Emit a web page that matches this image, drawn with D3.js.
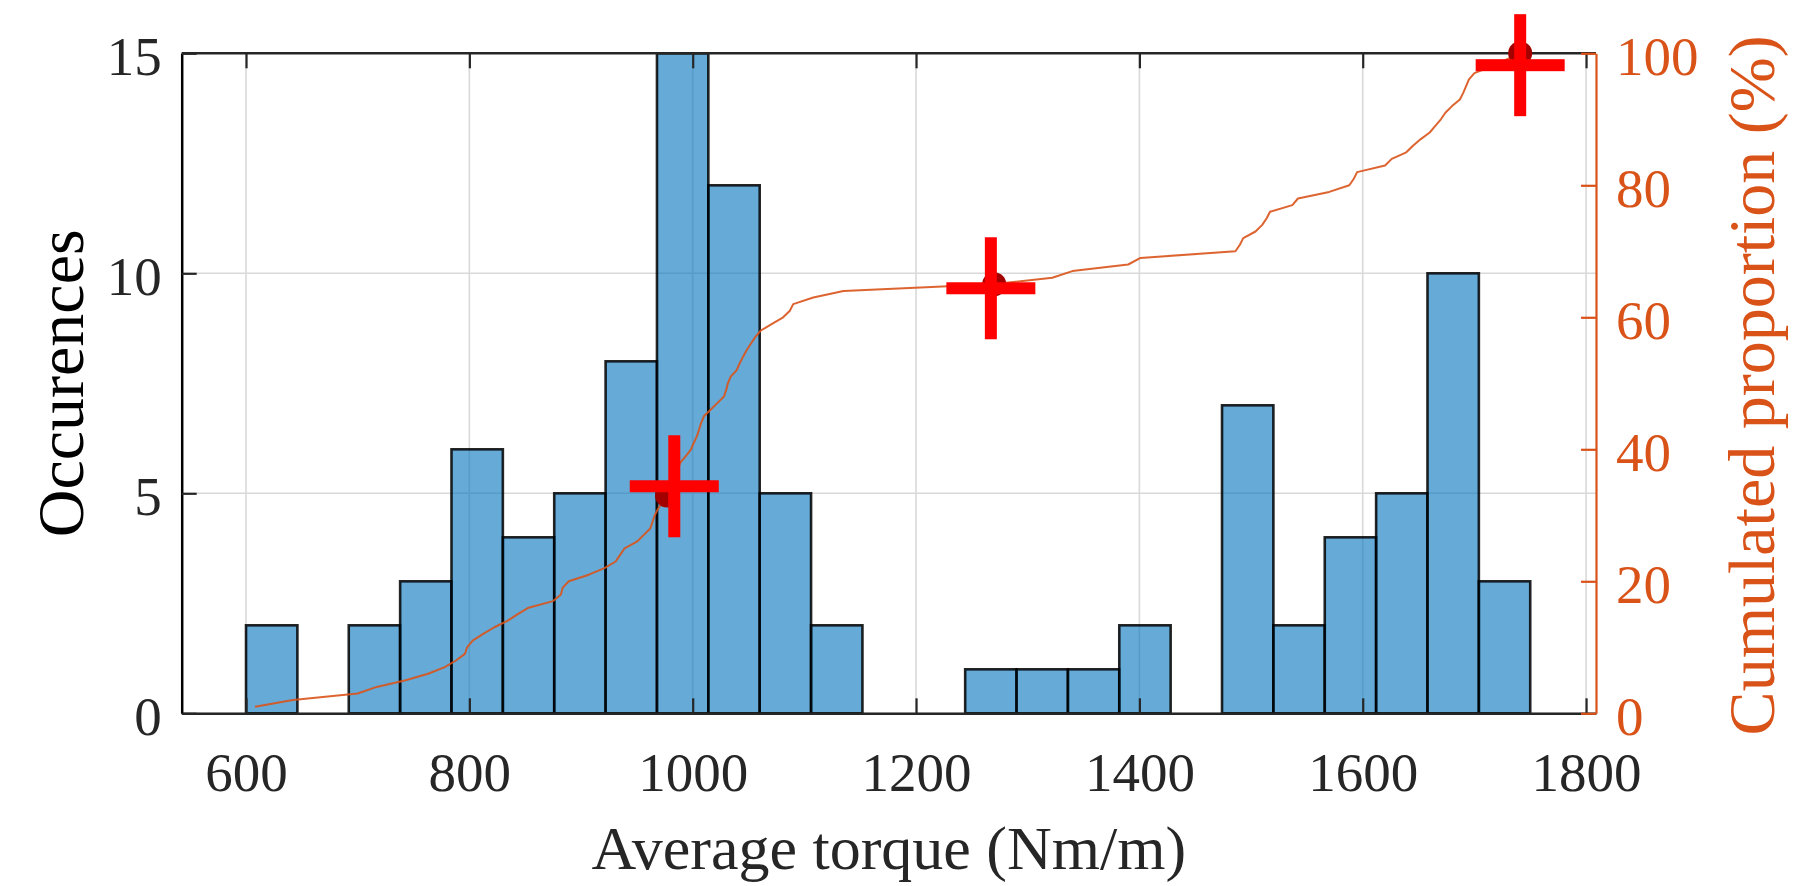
<!DOCTYPE html>
<html>
<head>
<meta charset="utf-8">
<script src="https://cdn.jsdelivr.net/npm/d3@7"></script>
<style>
  body { margin: 0; background: #fff; }
  svg { display: block; }
  text { font-family: "Liberation Serif", "Times New Roman", Times, serif; }
</style>
</head>
<body>
<svg id="chart" width="1806" height="886"></svg>
<script>
// Histogram bins of the average torque (Nm/m): first edge and width
const binStart = 600;
const binWidth = 46;
const binCounts = [2, 0, 2, 3, 6, 4, 5, 8, 15, 12, 5, 2, 0, 0, 1, 1, 1, 2, 0, 7, 2, 4, 5, 10, 3];

// Sorted torque samples (Nm/m) for the cumulated proportion curve
const torqueSorted = [
  608, 642, 700, 717, 743, 763, 778, 788, 796, 798,
  803, 812, 822, 834, 843, 853, 875, 882, 883.5, 889,
  907, 921, 931, 935, 939, 950, 956, 962, 964, 966,
  969, 973, 977, 979.5, 982, 984, 986.5, 989, 994, 998.5,
  1001, 1003.8, 1005.7, 1007.6, 1010, 1016, 1022, 1028, 1030, 1031.5,
  1034, 1039.4, 1042, 1045, 1048.3, 1052, 1056, 1061, 1071, 1081,
  1087, 1090, 1108, 1135, 1268, 1322, 1340, 1390, 1401, 1486,
  1490, 1493, 1504, 1510, 1514, 1517, 1537, 1542, 1570, 1588,
  1592, 1595, 1620, 1626, 1639, 1645, 1652, 1660, 1665, 1670,
  1674, 1680, 1687, 1690, 1692.5, 1695, 1700, 1715, 1728, 1741
];

// Highlighted samples (dot) and the cross markers placed over them
const markTorque = [977, 1270, 1741];
const markPercent = [33, 65, 100];
const crossTorque = [983.5, 1267, 1741];
const crossPercent = [34.4, 64.4, 98.2];

// Axis ticks
const xTicks = [600, 800, 1000, 1200, 1400, 1600, 1800];
const yLeftTicks = [0, 5, 10, 15];
const yRightTicks = [0, 20, 40, 60, 80, 100];

const xLabel = "Average torque (Nm/m)";
const yLeftLabel = "Occurences";
const yRightLabel = "Cumulated proportion (%)";

// ---- layout and style ----
const plot = { left: 181.7, right: 1596, top: 53.3, bottom: 713.3 };
const ink = "#262626";
const orange = "#D95319";
const gridColor = "#d9d9d9";
const tickFont = 55;
const labelFont = 62;
const yLabelFont = 66;
const tickLen = 15;
const intFmt = d3.format("d");

const svg = d3.select("#chart");

const x = d3.scaleLinear().domain([542.4, 1808.9]).range([plot.left, plot.right]);
const yL = d3.scaleLinear().domain([0, 15]).range([plot.bottom, plot.top]);
const yR = d3.scaleLinear().domain([0, 100]).range([plot.bottom, plot.top]);

// grid
const grid = svg.append("g").attr("stroke", gridColor).attr("stroke-width", 1.6);
grid.selectAll("line.v").data(xTicks).join("line")
  .attr("x1", d => x(d)).attr("x2", d => x(d))
  .attr("y1", plot.top).attr("y2", plot.bottom);
grid.selectAll("line.h").data(yLeftTicks).join("line")
  .attr("y1", d => yL(d)).attr("y2", d => yL(d))
  .attr("x1", plot.left).attr("x2", plot.right);

// histogram bars
const bins = binCounts.map((c, i) => ({ x0: binStart + i * binWidth, x1: binStart + (i + 1) * binWidth, count: c }));
svg.append("g").selectAll("rect").data(bins).join("rect")
  .attr("x", d => x(d.x0))
  .attr("width", d => x(d.x1) - x(d.x0))
  .attr("y", d => yL(d.count))
  .attr("height", d => yL(0) - yL(d.count))
  .attr("fill", "#0072BD").attr("fill-opacity", 0.6)
  .attr("stroke", "#000").attr("stroke-opacity", 0.85).attr("stroke-width", 2.6);

// cumulated proportion curve
const n = torqueSorted.length;
const cdf = torqueSorted.map((v, i) => ({ v, p: (i + 1) / n * 100 }));
svg.append("path").datum(cdf)
  .attr("fill", "none").attr("stroke", orange).attr("stroke-width", 2)
  .attr("stroke-opacity", 0.9)
  .attr("stroke-linejoin", "round")
  .attr("d", d3.line().x(d => x(d.v)).y(d => yR(d.p)));

// frame line along the top
svg.append("line").attr("x1", plot.left).attr("x2", plot.right).attr("y1", plot.top).attr("y2", plot.top)
  .attr("stroke", ink).attr("stroke-width", 2.5);

// bottom axis
const gx = svg.append("g").attr("transform", `translate(0,${plot.bottom})`)
  .call(d3.axisBottom(x).tickValues(xTicks).tickFormat(intFmt)
    .tickSizeInner(-tickLen).tickSizeOuter(0).tickPadding(0));
// top ticks
const gxTop = svg.append("g").attr("transform", `translate(0,${plot.top})`)
  .call(d3.axisTop(x).tickValues(xTicks).tickSizeInner(-tickLen).tickSizeOuter(0).tickFormat(""));
gxTop.select(".domain").remove();

// left axis
const gyL = svg.append("g").attr("transform", `translate(${plot.left},0)`)
  .call(d3.axisLeft(yL).tickValues(yLeftTicks).tickFormat(intFmt)
    .tickSizeInner(-tickLen).tickSizeOuter(0).tickPadding(20));

// right axis
const gyR = svg.append("g").attr("transform", `translate(${plot.right},0)`)
  .call(d3.axisRight(yR).tickValues(yRightTicks).tickFormat(intFmt)
    .tickSizeInner(-tickLen).tickSizeOuter(0).tickPadding(20));

[gx, gxTop, gyL].forEach(g => {
  g.select(".domain").attr("stroke", ink).attr("stroke-width", 2.5);
  g.selectAll(".tick line").attr("stroke", ink).attr("stroke-width", 2.2);
});
gyL.select(".domain").attr("stroke", "#000");
gyR.select(".domain").attr("stroke", orange).attr("stroke-width", 2.2);
gyR.selectAll(".tick line").attr("stroke", orange).attr("stroke-width", 2.2);

gx.selectAll(".tick text").attr("y", 77.7).attr("dy", 0)
  .attr("font-size", tickFont).attr("fill", ink);
gyL.selectAll(".tick text").attr("dy", "0.39em")
  .attr("font-size", tickFont).attr("fill", ink);
gyR.selectAll(".tick text").attr("dy", "0.39em")
  .attr("font-size", tickFont).attr("fill", orange);
[gx, gxTop, gyL, gyR].forEach(g => g.attr("font-family", null).attr("font-size", null));

// axis labels
svg.append("text").attr("x", (plot.left + plot.right) / 2).attr("y", 869)
  .attr("text-anchor", "middle").attr("font-size", labelFont).attr("fill", ink).text(xLabel);
svg.append("text").attr("transform", `translate(83,${(plot.top + plot.bottom) / 2}) rotate(-90)`)
  .attr("text-anchor", "middle").attr("font-size", yLabelFont).attr("fill", "#000").text(yLeftLabel);
svg.append("text").attr("transform", `translate(1774,${(plot.top + plot.bottom) / 2 + 2}) rotate(-90)`)
  .attr("text-anchor", "middle").attr("font-size", yLabelFont).attr("fill", orange).text(yRightLabel);

// highlighted samples and their cross markers
const marks = markTorque.map((v, i) => ({ v, p: markPercent[i], cv: crossTorque[i], cp: crossPercent[i] }));
svg.append("g").selectAll("circle").data(marks).join("circle")
  .attr("cx", d => x(d.v)).attr("cy", d => yR(d.p)).attr("r", 12)
  .attr("fill", "#a30000");
const crossArm = { w: 89, h: 102, t: 12 };
const crosses = svg.append("g").attr("fill", "#ff0000");
crosses.selectAll("rect.hbar").data(marks).join("rect").attr("class", "hbar")
  .attr("x", d => x(d.cv) - crossArm.w / 2).attr("y", d => yR(d.cp) - crossArm.t / 2)
  .attr("width", crossArm.w).attr("height", crossArm.t);
crosses.selectAll("rect.vbar").data(marks).join("rect").attr("class", "vbar")
  .attr("x", d => x(d.cv) - crossArm.t / 2).attr("y", d => yR(d.cp) - crossArm.h / 2)
  .attr("width", crossArm.t).attr("height", crossArm.h);
</script>
</body>
</html>
